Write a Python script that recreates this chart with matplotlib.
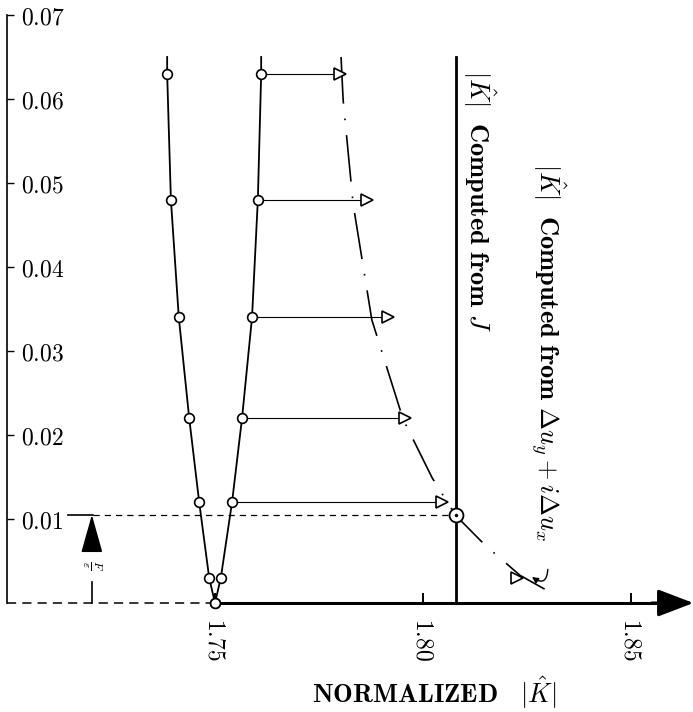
import matplotlib
matplotlib.use("Agg")
import matplotlib.pyplot as plt

plt.rcParams["mathtext.fontset"] = "cm"
plt.rcParams["font.family"] = ["DejaVu Serif"]

# ── data ──────────────────────────────────────────────────────
y_levels = [0.063, 0.048, 0.034, 0.022, 0.012, 0.003, 0.0]
k_left   = [1.7385, 1.7394, 1.7413, 1.7438, 1.7462, 1.7486, 1.7500]
k_right  = [1.7611, 1.7603, 1.7589, 1.7565, 1.7541, 1.7514, 1.7500]
k_top    = [1.7385, 1.7611]          # branches continue a bit above the top point
y_top    = 0.065

# triangles: |K| computed from du_y + i du_x
k_tri = [1.7800, 1.7865, 1.7916, 1.7957, 1.8046, 1.8226]
y_tri = [0.063, 0.048, 0.034, 0.022, 0.012, 0.003]

# dash-dot curve through the triangle values
curve_k = [1.7803, 1.7808, 1.7832, 1.7877, 1.7952, 1.8022, 1.8079, 1.8149, 1.8233, 1.8305]
curve_y = [0.0650, 0.0599, 0.0475, 0.0337, 0.0219, 0.0149, 0.0104, 0.0069, 0.0033, 0.0013]

k_from_J = 1.808          # vertical line, |K| computed from J
eps_level = 0.0105        # crossing point

y_ticks = [0.01, 0.02, 0.03, 0.04, 0.05, 0.06, 0.07]
y_tick_labels = ["$%.2f$" % v for v in y_ticks]
x_ticks = [1.75, 1.80, 1.85]
x_tick_labels = ["$1.75$", "$1.80$", "$1.85$"]

# ── figure ───────────────────────────────────────────────────
fig = plt.figure(figsize=(6.93, 7.12), dpi=100)
ax = fig.add_axes([0, 0, 1, 1])
ax.set_xlim(1.69832, 1.86490)
ax.set_ylim(-0.012976, 0.071786)
ax.patch.set_visible(False)

for s in ("top", "right"):
    ax.spines[s].set_visible(False)
ax.spines["left"].set_position(("data", 1.70))
ax.spines["left"].set_bounds(0, 0.07)
ax.spines["left"].set_linewidth(1.2)
ax.spines["bottom"].set_position(("data", 0))
ax.spines["bottom"].set_bounds(1.75, 1.857)
ax.spines["bottom"].set_linewidth(2.2)

ax.set_yticks(y_ticks, labels=y_tick_labels)
ax.tick_params(axis="y", direction="in", length=5, width=1.0, pad=-10, labelsize=17)
for lab in ax.get_yticklabels():
    lab.set_horizontalalignment("left")

ax.set_xticks(x_ticks, labels=x_tick_labels, rotation=-90)
ax.tick_params(axis="x", direction="in", length=7, width=1.4, pad=11, labelsize=17)

# x-axis arrow head and dashed left part
ax.annotate("", xy=(1.8650, 0), xytext=(1.855, 0),
            arrowprops=dict(arrowstyle="-|>,head_length=1.1,head_width=0.42",
                            lw=2.2, color="k", mutation_scale=20, shrinkA=0, shrinkB=0),
            annotation_clip=False)
ax.plot([1.70, 1.75], [0, 0], color="k", lw=1.1, ls=(0, (6, 4)))

# the two branches
ax.plot([k_top[0]] + k_left, [y_top] + y_levels, color="k", lw=1.3, zorder=3)
ax.plot([k_top[1]] + k_right, [y_top] + y_levels, color="k", lw=1.3, zorder=3)
ax.plot(k_left, y_levels, ls="none", marker="o", ms=7, mfc="white", mec="k", mew=1.2, zorder=4)
ax.plot(k_right, y_levels, ls="none", marker="o", ms=7, mfc="white", mec="k", mew=1.2, zorder=4)

# horizontal arrows to the triangles
for kr, kt, yl in zip(k_right[:5], k_tri[:5], y_tri[:5]):
    ax.plot([kr, kt], [yl, yl], color="k", lw=0.8, zorder=2)
ax.plot(k_tri, y_tri, ls="none", marker=">", ms=8, mfc="white", mec="k", mew=1.2, zorder=5)

# dash-dot curve
ax.plot(curve_k, curve_y, color="k", lw=1.2, ls=(0, (28, 9, 1, 9)), zorder=3)

# vertical line computed from J
ax.plot([k_from_J, k_from_J], [0, y_top], color="k", lw=2.0, zorder=3)

# dashed level line and crossing point
ax.plot([1.7147, 1.7207], [eps_level, eps_level], color="k", lw=1.2)
ax.plot([1.7207, k_from_J], [eps_level, eps_level], color="k", lw=0.9, ls=(0, (5, 4)), zorder=2)
ax.plot([k_from_J], [eps_level], ls="none", marker="o", ms=10, mfc="white", mec="k", mew=1.3, zorder=6)
ax.plot([k_from_J], [eps_level], ls="none", marker=".", ms=3, color="k", zorder=7)

# epsilon arrow
ax.plot([1.7204, 1.7204], [0, 0.0025], color="k", lw=1.2)
ax.annotate("", xy=(1.7204, eps_level), xytext=(1.7204, 0.0063),
            arrowprops=dict(arrowstyle="-|>,head_length=1.6,head_width=0.45",
                            lw=1.2, color="k", mutation_scale=15, shrinkA=0, shrinkB=0))
ax.text(1.7204, 0.0045, r"$\frac{F}{\varepsilon}$", rotation=-90, fontsize=12,
        ha="center", va="center")

# curly pointer to the last triangle
ax.annotate("", xy=(1.8262, 0.0031), xytext=(1.8300, 0.0040),
            arrowprops=dict(arrowstyle="-|>", connectionstyle="arc3,rad=-0.9",
                            lw=1.0, color="k", mutation_scale=9, shrinkA=0, shrinkB=0))

# rotated labels
ax.text(1.8135, 0.0635, r"$|\hat{K}|\ \ \mathbf{Computed\ from}\ J$",
        rotation=-90, fontsize=19, ha="center", va="top")
ax.text(1.8300, 0.0524, r"$|\hat{K}|\ \ \mathbf{Computed\ from}\ \Delta u_y + i\Delta u_x$",
        rotation=-90, fontsize=19, ha="center", va="top")

ax.set_xlabel(r"$\mathbf{NORMALIZED}\ \ \ |\hat{K}|$", fontsize=19, va="center")
ax.xaxis.set_label_coords(0.626, 0.027)

fig.savefig("out.png", dpi=100, facecolor="white")
plt.close()
